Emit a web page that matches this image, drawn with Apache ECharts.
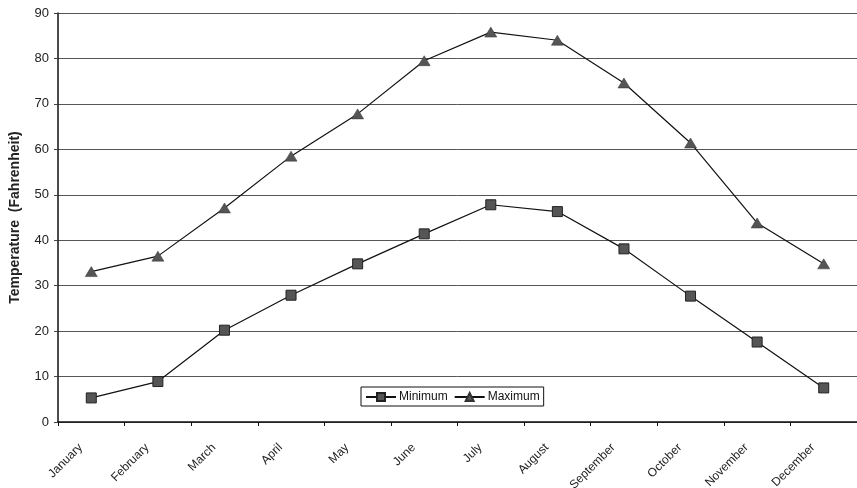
<!DOCTYPE html>
<html>
<head>
<meta charset="utf-8">
<script src="https://cdn.jsdelivr.net/npm/echarts@6/dist/echarts.min.js"></script>
<style>
  html, body { margin: 0; padding: 0; background: #fff; }
  #chart { width: 857px; height: 488px; }
</style>
</head>
<body>
<div id="chart"></div>
<script>
// Monthly temperature range (degrees Fahrenheit)
const months = ['January', 'February', 'March', 'April', 'May', 'June',
                'July', 'August', 'September', 'October', 'November', 'December'];
const minimumTemps = [5.3, 8.9, 20.2, 27.9, 34.8, 41.4, 47.8, 46.3, 38.1, 27.7, 17.6, 7.5];
const maximumTemps = [33.1, 36.5, 47.1, 58.5, 67.8, 79.5, 85.8, 84.0, 74.6, 61.4, 43.8, 34.8];

const chart = echarts.init(document.getElementById('chart'), null, { renderer: 'canvas' });

const font = 'Arial, "Liberation Sans", sans-serif';

chart.setOption({
  backgroundColor: '#ffffff',
  animation: false,
  grid: { left: 58, right: 0, top: 13, bottom: 66, containLabel: false, outerBoundsMode: 'none' },
  legend: {
    data: ['Minimum', 'Maximum'],
    left: 361,
    top: 387,
    orient: 'horizontal',
    itemWidth: 30,
    itemHeight: 10,
    itemGap: 6,
    padding: [4, 4, 3, 4],
    borderColor: '#111',
    borderWidth: 1,
    borderRadius: 0,
    textStyle: { fontFamily: font, fontSize: 12, color: '#111', padding: [0, 0, 0, -2] }
  },
  xAxis: {
    type: 'category',
    data: months,
    boundaryGap: true,
    axisLine: { lineStyle: { color: '#111', width: 1.5 } },
    axisTick: { show: true, length: 4, lineStyle: { color: '#111' } },
    axisLabel: {
      rotate: 45,
      fontFamily: font,
      fontSize: 12,
      color: '#222',
      margin: 13,
      padding: [0, 15, 0, 0],
      interval: 0
    },
    splitLine: { show: false }
  },
  yAxis: {
    type: 'value',
    min: 0,
    max: 90,
    interval: 10,
    name: 'Temperature  (Fahrenheit)',
    nameLocation: 'middle',
    nameGap: 36,
    nameRotate: 90,
    nameTextStyle: { fontFamily: font, fontSize: 14, color: '#222', fontWeight: 'bold' },
    axisLine: { show: true, lineStyle: { color: '#111', width: 1.5 } },
    axisTick: { show: true, length: 4, lineStyle: { color: '#444' } },
    axisLabel: { fontFamily: font, fontSize: 13, color: '#222', margin: 9 },
    splitLine: { show: true, lineStyle: { color: '#555', width: 1 } }
  },
  series: [
    {
      name: 'Minimum',
      type: 'line',
      data: minimumTemps,
      symbol: 'rect',
      symbolSize: 10,
      lineStyle: { color: '#111', width: 1.2 },
      itemStyle: { color: '#555', borderColor: '#222', borderWidth: 1 }
    },
    {
      name: 'Maximum',
      type: 'line',
      data: maximumTemps,
      symbol: 'triangle',
      symbolSize: [12, 10],
      lineStyle: { color: '#111', width: 1.2 },
      itemStyle: { color: '#555', borderColor: '#333', borderWidth: 0.5 }
    }
  ]
});
</script>
</body>
</html>
